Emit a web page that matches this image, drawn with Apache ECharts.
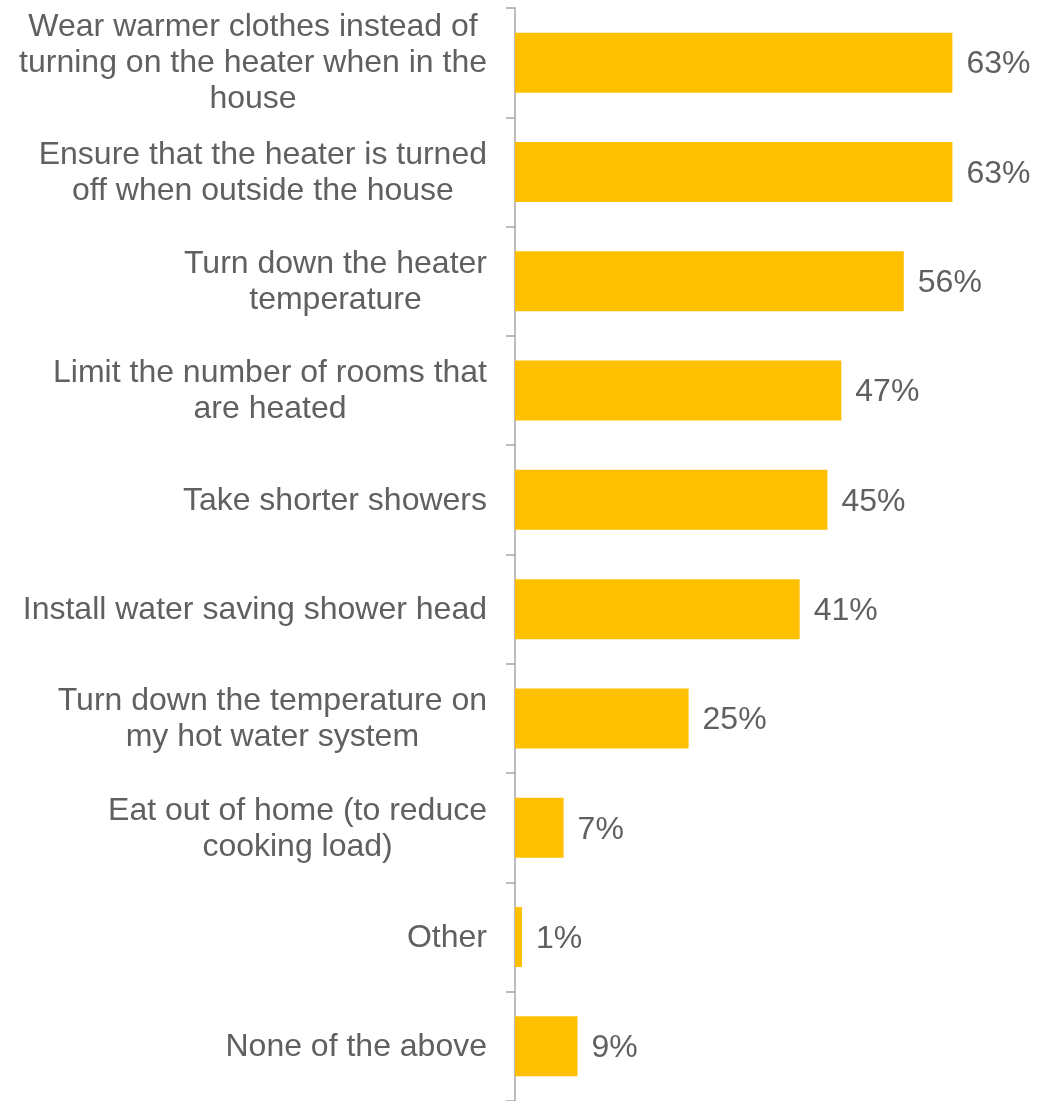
<!DOCTYPE html>
<html>
<head>
<meta charset="utf-8">
<script src="https://cdn.jsdelivr.net/npm/echarts@6/dist/echarts.min.js"></script>
<style>
  html, body { margin: 0; padding: 0; background: #ffffff; }
  #chart { width: 1057px; height: 1101px; }
</style>
</head>
<body>
<div id="chart"></div>
<script>
// Energy-saving actions, share of respondents (%), listed top to bottom
const categories = [
  'Wear warmer clothes instead of\nturning on the heater when in the\nhouse',
  'Ensure that the heater is turned\noff when outside the house',
  'Turn down the heater\ntemperature',
  'Limit the number of rooms that\nare heated',
  'Take shorter showers',
  'Install water saving shower head',
  'Turn down the temperature on\nmy hot water system',
  'Eat out of home (to reduce\ncooking load)',
  'Other',
  'None of the above'
];
const shares = [63, 63, 56, 47, 45, 41, 25, 7, 1, 9];

const TEXT = '#606060';
const FONT = 'Liberation Sans, Arial, sans-serif';

const chart = echarts.init(document.getElementById('chart'), null, { renderer: 'canvas' });

chart.setOption({
  animation: false,
  backgroundColor: '#ffffff',
  grid: { left: 515, top: 8, width: 486, height: 1099, containLabel: false },
  xAxis: {
    type: 'value',
    min: 0,
    max: 70,
    show: false
  },
  yAxis: {
    type: 'category',
    inverse: true,
    data: categories,
    axisLine: { show: true, lineStyle: { color: '#A6A6A6', width: 1.5 } },
    axisTick: { show: true, length: 9, lineStyle: { color: '#A6A6A6', width: 1.5 } },
    axisLabel: {
      margin: 28,
      align: 'right',
      color: TEXT,
      fontFamily: FONT,
      fontSize: 32,
      lineHeight: 36,
      // each line centred within the label block
      formatter: function (value) {
        return value.split('\n').map(function (l) { return '{c|' + l + '}'; }).join('\n');
      },
      rich: {
        c: { align: 'center', color: TEXT, fontFamily: FONT, fontSize: 32, lineHeight: 36, padding: [2, 0, 0, 0] }
      }
    },
    splitLine: { show: false }
  },
  series: [{
    type: 'bar',
    data: shares,
    barWidth: 60,
    itemStyle: { color: '#FFC000' },
    label: {
      show: true,
      position: 'right',
      distance: 14,
      offset: [0, 2],
      color: TEXT,
      fontFamily: FONT,
      fontSize: 32,
      formatter: function (p) { return p.value + '%'; }
    }
  }]
});
</script>
</body>
</html>
